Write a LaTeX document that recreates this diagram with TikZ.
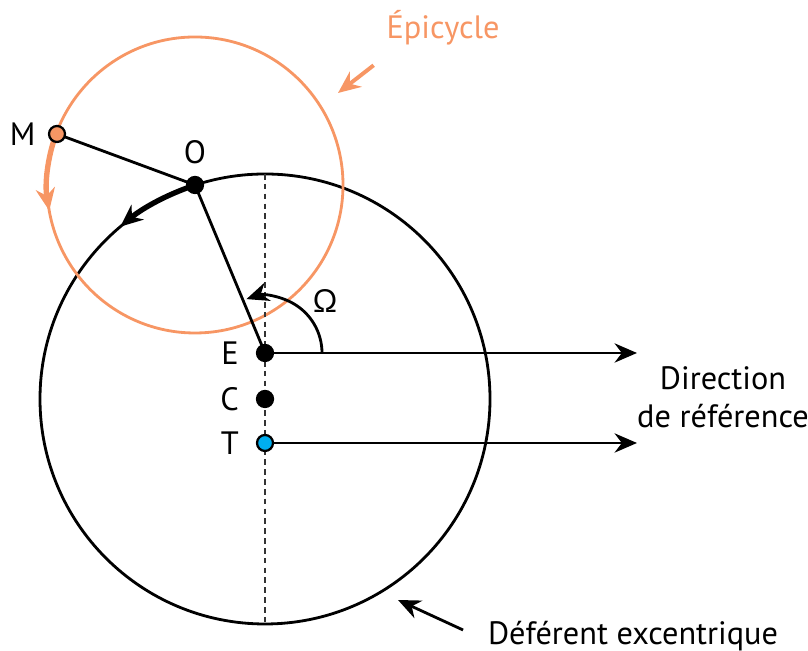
\documentclass[tikz,border=0pt]{standalone}
\usepackage{fontspec}
\setmainfont{PT Sans}
\usetikzlibrary{positioning,arrows.meta}
\definecolor{epiorange}{RGB}{247,150,100}
\definecolor{earthblue}{RGB}{0,174,239}

\begin{document}
\begin{tikzpicture}[
    x=0.125mm, y=0.125mm,
    every node/.style={font=\fontsize{11.5}{13.5}\selectfont},
    dot/.style={circle, draw, line width=0.8pt, fill=black, inner sep=0pt, minimum size=2mm},
    orbit/.style={line width=1pt},
    fwd/.style={-{Stealth[length=2.8mm, width=2.4mm]}, line width=1pt},
    motion/.style={-{Stealth[length=2.8mm, width=2.4mm]}, line width=1.9pt},
    node distance=0.9mm
]
\useasboundingbox (0,0) rectangle (808,651);

% centres
\coordinate (C) at (265,252);
\coordinate (E) at (265,298);
\coordinate (T) at (265,208);
\coordinate (O) at (195,466);
\coordinate (M) at (57,517);
\coordinate (top) at (265,477);
\coordinate (bot) at (265,27);

% circles
\draw[orbit] (C) circle[radius=225];
\draw[orbit, epiorange] (O) circle[radius=148];
\draw[dashed, thin, dash pattern=on 2pt off 1.5pt, black!80] (top) -- (bot);

% motion on the circles
\draw[motion] (C) ++(108.1:225) arc[start angle=108.1, end angle=130, radius=225];
\draw[motion, epiorange] (O) ++(159.7:148) arc[start angle=159.7, end angle=190, radius=148];

% radii
\draw[orbit] (E) -- (O);
\draw[orbit] (O) -- (M);

% reference directions
\coordinate (refE) at (637,298);
\coordinate (refT) at (637,208);
\draw[fwd] (E) -- (refE);
\draw[fwd] (T) -- (refT);
\draw[fwd] (E) ++(57,0) arc[start angle=0, end angle=109, radius=57];

% points
\node[dot] (edot) at (E) {};
\node[dot] (cdot) at (C) {};
\node[dot, fill=earthblue] (tdot) at (T) {};
\node[dot] (odot) at (O) {};
\node[dot, fill=epiorange] (mdot) at (M) {};

\node[left=of edot] {E};
\node[left=of cdot] {C};
\node[left=of tdot] {T};
\node[above=0.2mm of odot] {O};
\node[left=0.3mm of mdot] {M};
\node at (325,350) {Ω};

\node[align=center] (dirref) at (723,254) {Direction\\de référence};

% labels
\node[text=epiorange] (epilabel) at (443,623) {Épicycle};
\coordinate (epitip) at (338,558);
\draw[fwd, epiorange, line width=1.4pt] (epilabel.south west) ++(-3,-10) -- (epitip);
\node (deflabel) at (633,15) {Déférent excentrique};
\coordinate (deftip) at (398,51);
\draw[fwd] (deflabel.west) ++(-15,6) -- (deftip);

\end{tikzpicture}
\end{document}
